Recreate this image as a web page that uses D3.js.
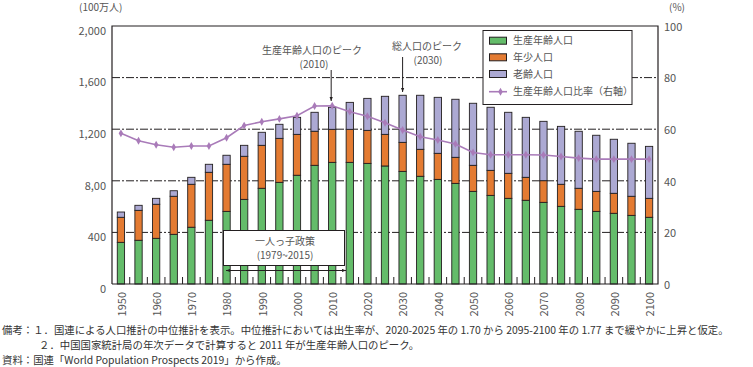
<!DOCTYPE html>
<html><head><meta charset="utf-8">
<script src="https://cdn.jsdelivr.net/npm/d3@7/dist/d3.min.js"></script>
<style>
html,body{margin:0;padding:0;background:#fff;}
svg{display:block;font-family:"Noto Sans CJK JP","Noto Sans",sans-serif;}
</style></head><body>
<svg id="c" width="753" height="367"></svg>
<script>
const years = [1950,1955,1960,1965,1970,1975,1980,1985,1990,1995,2000,2005,2010,2015,2020,2025,2030,2035,2040,2045,2050,2055,2060,2065,2070,2075,2080,2085,2090,2095,2100];
const working = [323,339,354,385,440,494,563,656,742,788,843,920,943,943,935,915,873,835,811,780,718,687,664,649,633,602,579,563,548,532,517];
const young = [194,232,264,295,333,372,365,334,333,341,317,264,256,256,256,245,225,209,202,202,202,194,194,178,168,171,163,155,155,148,147];
const old = [41,39,46,43,54,62,70,85,101,109,132,147,171,209,248,295,365,419,434,450,481,489,473,465,460,449,442,435,419,411,403];
const ratio = [58.4,55.5,54.0,53.0,53.5,53.5,56.7,61.4,62.9,64.0,65.2,69.0,69.1,66.8,65.0,62.5,59.7,57.1,55.8,54.3,51.0,50.1,50.1,50.1,50.0,49.4,48.8,48.4,48.4,48.4,48.4];
const leftTicks = [0,400,800,1200,1600,2000];
const leftTickLabels = ["0","400","8,00","1,200","1,600","2,000"];
const rightTicks = [0,20,40,60,80,100];
const xLabelYears = [1950,1960,1970,1980,1990,2000,2010,2020,2030,2040,2050,2060,2070,2080,2090,2100];
const seriesNames = ["生産年齢人口","年少人口","老齢人口","生産年齢人口比率（右軸）"];
const colors = {working:"#64bc6a", young:"#e47b32", old:"#aca9d3", line:"#a97bb9"};
const notes = [
 "備考：１．国連による人口推計の中位推計を表示。中位推計においては出生率が、2020-2025 年の 1.70 から 2095-2100 年の 1.77 まで緩やかに上昇と仮定。",
 "２．中国国家統計局の年次データで計算すると 2011 年が生産年齢人口のピーク。",
 "資料：国連「World Population Prospects 2019」から作成。"
];

const svg = d3.select("#c");
const L=112, R=658, T=26, B=284;
const txt="#555";
const x = d3.scaleBand().domain(years).range([L,R]).paddingInner(0.586).paddingOuter(0.3);
const y = d3.scaleLinear().domain([0,2000]).range([B,T]);
const y2 = d3.scaleLinear().domain([0,100]).range([B,T]);

// gridlines
svg.append("g").selectAll("line").data(leftTicks.filter(d=>d>0&&d<2000)).join("line")
  .attr("x1",L).attr("x2",R).attr("y1",d=>y(d)).attr("y2",d=>y(d))
  .attr("stroke","#231f20").attr("stroke-width",1).attr("stroke-dasharray","8,2,2,2");

// stacked bars
const data = years.map((yr,i)=>({year:yr,working:working[i],young:young[i],old:old[i]}));
const stack = d3.stack().keys(["working","young","old"])(data);
svg.append("g").selectAll("g").data(stack).join("g")
  .attr("fill",d=>colors[d.key])
  .selectAll("rect").data(d=>d).join("rect")
  .attr("x",d=>x(d.data.year)).attr("width",x.bandwidth())
  .attr("y",d=>y(d[1])).attr("height",d=>y(d[0])-y(d[1]))
  .attr("stroke","#231f20").attr("stroke-width",0.9);

// frame
svg.append("path").attr("d",`M${L},${B}V${T}H${R}V${B}H${L}`).attr("fill","none").attr("stroke","#231f20").attr("stroke-width",1.2);
// inner ticks between bars
const step = x.step();
svg.append("g").selectAll("line").data(years.slice(0,-1)).join("line")
  .attr("x1",d=>x(d)+x.bandwidth()/2+step/2).attr("x2",d=>x(d)+x.bandwidth()/2+step/2)
  .attr("y1",B).attr("y2",B-7).attr("stroke","#231f20").attr("stroke-width",1);

// left axis labels
svg.append("g").selectAll("text").data(leftTicks).join("text")
  .attr("x",106).attr("y",(d)=>y(d)+5).attr("dy","0.35em").attr("text-anchor","end")
  .attr("font-size",11).attr("fill",txt).text((d,i)=>leftTickLabels[i]);
// right axis labels
svg.append("g").selectAll("text").data(rightTicks).join("text")
  .attr("x",664).attr("y",d=>y2(d)+1).attr("dy","0.35em").attr("text-anchor","start")
  .attr("font-size",11).attr("fill",txt).text(d=>d);
svg.append("text").attr("x",79).attr("y",11).attr("font-size",10).attr("fill",txt).text("(100万人)");
svg.append("text").attr("x",669).attr("y",11).attr("font-size",10).attr("fill",txt).text("(%)");

// x labels
svg.append("g").selectAll("text").data(xLabelYears).join("text")
  .attr("transform",d=>`translate(${x(d)+x.bandwidth()/2+1},292) rotate(-90)`)
  .attr("text-anchor","end").attr("dy","0.35em").attr("font-size",11).attr("fill",txt).text(d=>d);

// line
const cx = d=>x(d)+x.bandwidth()/2;
svg.append("path").datum(years.map((yr,i)=>[cx(yr),y2(ratio[i])]))
  .attr("d",d3.line()).attr("fill","none").attr("stroke",colors.line).attr("stroke-width",1.6);
svg.append("g").selectAll("path").data(years).join("path")
  .attr("transform",(d,i)=>`translate(${cx(d)},${y2(ratio[i])})`)
  .attr("d",d3.symbol().type(d3.symbolDiamond).size(18)).attr("fill",colors.line);

// arrowhead marker
const defs = svg.append("defs");
defs.append("marker").attr("id","ah").attr("viewBox","0 0 10 10").attr("refX",10).attr("refY",5)
  .attr("markerWidth",4).attr("markerHeight",4).attr("orient","auto-start-reverse")
  .append("path").attr("d","M0,1L10,5L0,9Z").attr("fill","#231f20");

// peak annotations
const ann = svg.append("g").attr("font-size",10).attr("fill",txt).attr("text-anchor","middle");
ann.append("text").attr("x",312).attr("y",54).text("生産年齢人口のピーク");
ann.append("text").attr("x",314).attr("y",68).text("(2010)");
ann.append("text").attr("x",427).attr("y",50).text("総人口のピーク");
ann.append("text").attr("x",428).attr("y",64).text("(2030)");
svg.append("line").attr("x1",cx(2010)-1).attr("x2",cx(2010)-1).attr("y1",70).attr("y2",101)
  .attr("stroke","#231f20").attr("stroke-width",1).attr("marker-end","url(#ah)");
svg.append("line").attr("x1",cx(2030)).attr("x2",cx(2030)).attr("y1",57).attr("y2",92)
  .attr("stroke","#231f20").attr("stroke-width",1).attr("marker-end","url(#ah)");

// one-child policy box
svg.append("rect").attr("x",223.5).attr("y",230.5).attr("width",121).attr("height",35)
  .attr("fill","#fff").attr("stroke","#231f20").attr("stroke-width",1);
svg.append("text").attr("x",285).attr("y",245).attr("text-anchor","middle").attr("font-size",10).attr("fill",txt).text("一人っ子政策");
svg.append("text").attr("x",285).attr("y",259).attr("text-anchor","middle").attr("font-size",10).attr("fill",txt).text("(1979~2015)");
svg.append("line").attr("x1",226).attr("x2",346).attr("y1",270.5).attr("y2",270.5)
  .attr("stroke","#231f20").attr("stroke-width",1).attr("marker-end","url(#ah)").attr("marker-start","url(#ah)");

// legend
const lg = svg.append("g");
lg.append("rect").attr("x",483).attr("y",30.5).attr("width",149).attr("height",74).attr("fill","#fff").attr("stroke","#231f20").attr("stroke-width",1);
const rowsY=[40.7,57.3,74,91.7];
const keys=["working","young","old"];
keys.forEach((k,i)=>{
  lg.append("rect").attr("x",489.5).attr("y",rowsY[i]-3.5).attr("width",17).attr("height",7).attr("fill",colors[k]).attr("stroke","#231f20").attr("stroke-width",1);
});
lg.append("line").attr("x1",489).attr("x2",507).attr("y1",rowsY[3]).attr("y2",rowsY[3]).attr("stroke",colors.line).attr("stroke-width",1.6);
lg.append("path").attr("transform",`translate(500.5,${rowsY[3]})`).attr("d",d3.symbol().type(d3.symbolDiamond).size(18)).attr("fill",colors.line);
lg.selectAll("text.l").data(seriesNames).join("text").attr("class","l")
  .attr("x",513).attr("y",(d,i)=>rowsY[i]).attr("dy","0.35em").attr("font-size",10).attr("fill",txt).text(d=>d);

// notes
const nt = svg.append("g").attr("font-size",10.4).attr("fill","#333");
nt.append("text").attr("x",2).attr("y",334).text(notes[0]);
nt.append("text").attr("x",39).attr("y",349).text(notes[1]);
nt.append("text").attr("x",2).attr("y",364).text(notes[2]);
</script>
</body></html>
